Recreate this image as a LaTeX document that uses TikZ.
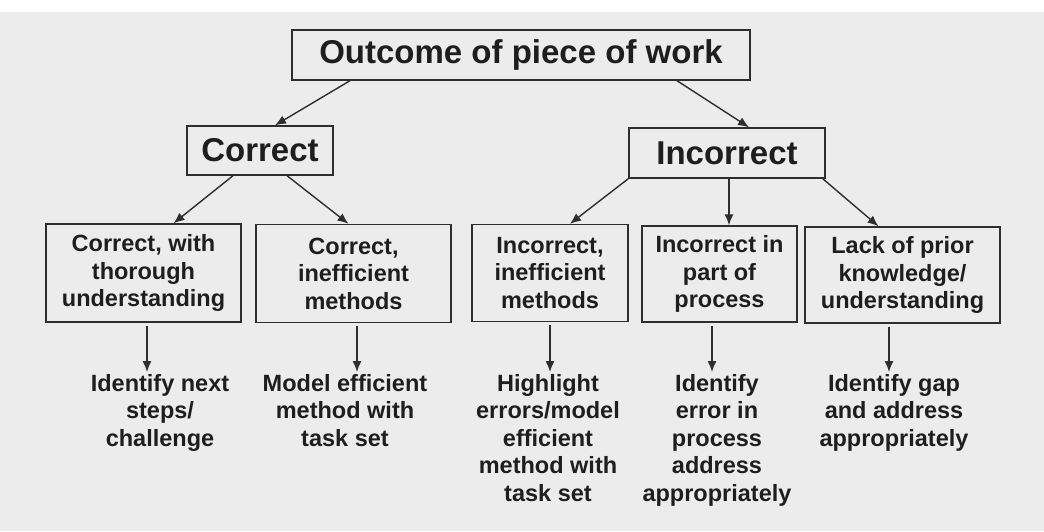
\documentclass[tikz,border=0pt]{standalone}
\usepackage{fontspec}
\setmainfont{Liberation Sans}
\usetikzlibrary{arrows.meta}

\begin{document}
\begin{tikzpicture}[x=1pt,y=-1pt,
		kasten/.style={draw=linie, line width=1.4pt, text=schrift, align=center, inner sep=0pt},
		gross/.style={font=\bfseries\fontsize{33}{38}\selectfont},
		klein/.style={font=\bfseries\fontsize{23.5}{27.5}\selectfont},
		ziel/.style={klein, text=schrift, align=center, anchor=north, inner sep=2pt},
		pfeil/.style={draw=linie, line width=1.4pt, -{Latex[length=11pt,width=9pt]}}]
		
		\definecolor{linie}{HTML}{2E2E2E}
		\definecolor{schrift}{HTML}{1E1E1E}
		\definecolor{hintergrund}{HTML}{ECECEC}
		
		% Rahmen
		\useasboundingbox (0,0) rectangle (1044,531);
		\fill[hintergrund] (0,12) rectangle (1044,531);
		
		% Oben
		\node[kasten, gross, minimum width=458pt, minimum height=50pt] (oben) at (521,55) {Outcome of piece of work};
		\node[kasten, gross, minimum width=146pt, minimum height=49pt] (richtig) at (260,150.5) {Correct};
		\node[kasten, gross, minimum width=196pt, minimum height=50pt] (falsch) at (727,153) {Incorrect};
		
		% Zweite Reihe
		\node[kasten, klein, minimum width=195pt, minimum height=98pt] (b1) at (143.5,273) {Correct, with\\thorough\\understanding};
		\node[kasten, klein, minimum width=195pt, minimum height=98pt] (b2) at (353.5,273.5) {Correct,\\inefficient\\methods};
		\node[kasten, klein, minimum width=156pt, minimum height=97pt] (b3) at (550,273) {Incorrect,\\inefficient\\methods};
		\node[kasten, klein, minimum width=155pt, minimum height=96pt] (b4) at (719.5,274) {Incorrect in\\part of\\process};
		\node[kasten, klein, minimum width=195pt, minimum height=96pt] (b5) at (902.5,275) {Lack of prior\\knowledge/\\understanding};
		
		% Massnahmen
		\node[ziel] (t1) at (160,372) {Identify next\\steps/\\challenge};
		\node[ziel] (t2) at (345,372) {Model efficient\\method with\\task set};
		\node[ziel] (t3) at (548,372) {Highlight\\errors/model\\efficient\\method with\\task set};
		\node[ziel] (t4) at (717,372) {Identify\\error in\\process\\address\\appropriately};
		\node[ziel] (t5) at (894,372) {Identify gap\\and address\\appropriately};
		
		% Pfeile
		\draw[pfeil] ([xshift=-171pt]oben.south) -- ([xshift=15pt]richtig.north);
		\draw[pfeil] ([xshift=156pt]oben.south) -- ([xshift=22pt]falsch.north);
		\draw[pfeil] ([xshift=-27pt]richtig.south) -- ([xshift=30pt]b1.north);
		\draw[pfeil] ([xshift=27pt]richtig.south) -- ([xshift=-5pt]b2.north);
		\draw[pfeil] (falsch.south west) -- ([xshift=20pt]b3.north);
		\draw[pfeil] ([xshift=2pt]falsch.south) -- ([xshift=2pt]falsch.south |- b4.north);
		\draw[pfeil] ([xshift=-3pt]falsch.south east) -- ([xshift=-24pt]b5.north);
		\foreach \n/\dx in {1/3.5,2/3.5,3/0,4/-7.5,5/-13.5}
			\draw[pfeil] ([shift={(\dx pt,-3pt)}]b\n.south) -- ([xshift=\dx pt]b\n.south |- t\n.north);
		
	\end{tikzpicture}
\end{document}
